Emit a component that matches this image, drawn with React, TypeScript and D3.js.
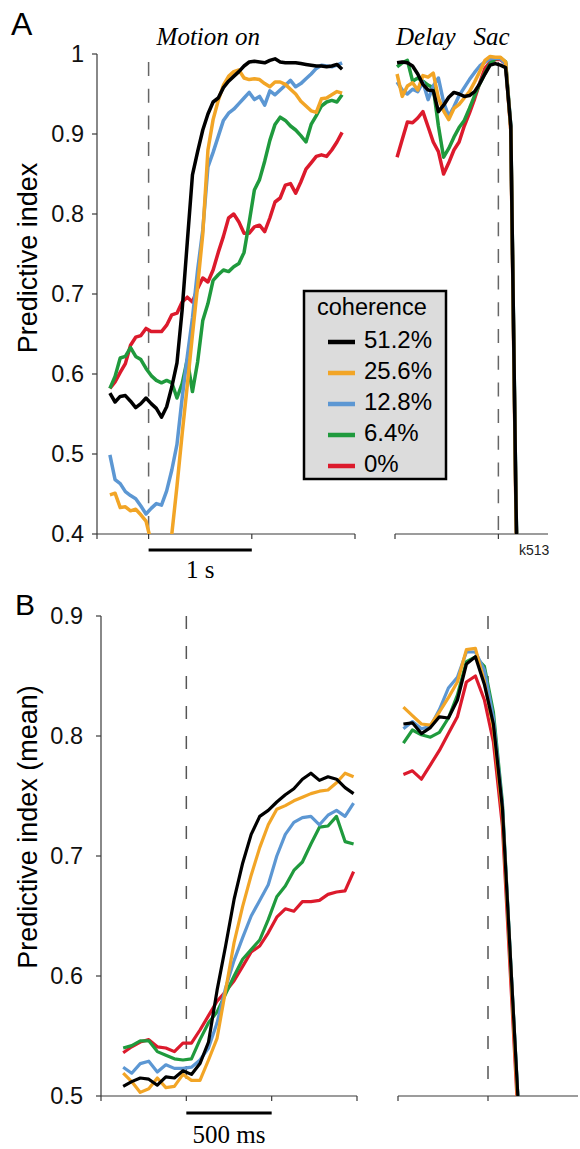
import React from "react";
import * as d3 from "d3";

// ---------- data ----------
const coherenceLabels = ["51.2%", "25.6%", "12.8%", "6.4%", "0%"];
const seriesColors = ["#000000", "#f2a526", "#5c97d3", "#1f9a3d", "#dc1a2c"];

// Panel A, aligned to motion onset (ms)
const timesAMotion = [
  -375, -325, -275, -225, -175, -125, -75, -25, 25, 75, 125, 175, 225, 275, 325, 375, 425, 475, 525, 575,
  625, 675, 725, 775, 825, 875, 925, 975, 1025, 1075, 1125, 1175, 1225, 1275, 1325, 1375, 1425, 1475, 1525,
  1575, 1625, 1675, 1725, 1775, 1825, 1875,
];
const aMotion512 = [0.576,0.565,0.572,0.573,0.566,0.558,0.563,0.570,0.563,0.557,0.546,0.559,0.584,0.614,0.680,0.765,0.849,0.878,0.905,0.925,0.940,0.945,0.958,0.966,0.972,0.978,0.985,0.990,0.991,0.990,0.989,0.992,0.994,0.990,0.989,0.989,0.989,0.988,0.987,0.986,0.985,0.985,0.984,0.985,0.987,0.981];
const aMotion256 = [0.449,0.451,0.433,0.434,0.429,0.431,0.424,0.416,0.39,0.37,0.35,0.33,0.40,0.46,0.525,0.586,0.649,0.71,0.775,0.88,0.918,0.942,0.961,0.972,0.978,0.98,0.97,0.968,0.969,0.968,0.963,0.959,0.965,0.965,0.962,0.956,0.95,0.941,0.935,0.929,0.927,0.944,0.945,0.949,0.953,0.951];
const aMotion128 = [0.499,0.468,0.463,0.453,0.448,0.444,0.435,0.425,0.432,0.438,0.436,0.454,0.48,0.512,0.57,0.622,0.67,0.73,0.78,0.859,0.877,0.897,0.917,0.926,0.931,0.938,0.945,0.952,0.943,0.947,0.936,0.954,0.949,0.955,0.961,0.967,0.959,0.963,0.969,0.975,0.982,0.986,0.985,0.984,0.986,0.989];
const aMotion64 = [0.582,0.597,0.62,0.622,0.633,0.622,0.618,0.607,0.598,0.592,0.589,0.592,0.589,0.57,0.588,0.618,0.578,0.615,0.667,0.688,0.717,0.724,0.73,0.728,0.734,0.738,0.752,0.79,0.83,0.843,0.866,0.892,0.912,0.921,0.917,0.91,0.905,0.898,0.89,0.912,0.923,0.935,0.94,0.942,0.94,0.949];
const aMotion0 = [0.582,0.59,0.602,0.613,0.636,0.646,0.648,0.657,0.653,0.653,0.653,0.661,0.674,0.676,0.69,0.696,0.69,0.707,0.72,0.715,0.73,0.752,0.772,0.795,0.8,0.79,0.776,0.776,0.784,0.786,0.778,0.795,0.815,0.82,0.836,0.838,0.826,0.84,0.856,0.864,0.872,0.874,0.872,0.88,0.89,0.902];

// Panel A, aligned to saccade (ms)
const timesASac = [-980,-930,-880,-830,-780,-730,-680,-630,-580,-530,-480,-430,-380,-330,-280,-230,-180,-130,-80,-30,20,70,120,170,220];
const aSac512 = [0.989,0.99,0.989,0.985,0.975,0.962,0.955,0.954,0.928,0.936,0.946,0.952,0.95,0.947,0.948,0.953,0.963,0.975,0.986,0.988,0.986,0.983,0.91,0.44,0.1];
const aSac256 = [0.975,0.947,0.96,0.964,0.955,0.973,0.971,0.976,0.945,0.929,0.918,0.932,0.937,0.945,0.953,0.965,0.978,0.992,0.997,0.996,0.996,0.99,0.905,0.43,0.1];
const aSac128 = [0.965,0.955,0.95,0.956,0.953,0.965,0.943,0.96,0.97,0.94,0.922,0.934,0.948,0.958,0.968,0.977,0.985,0.99,0.994,0.995,0.994,0.988,0.91,0.44,0.1];
const aSac64 = [0.984,0.989,0.992,0.966,0.97,0.966,0.961,0.958,0.91,0.871,0.882,0.896,0.908,0.917,0.932,0.948,0.963,0.976,0.988,0.994,0.995,0.99,0.91,0.44,0.1];
const aSac0 = [0.871,0.893,0.915,0.914,0.92,0.928,0.909,0.89,0.878,0.85,0.864,0.88,0.89,0.91,0.926,0.944,0.964,0.982,0.99,0.993,0.993,0.988,0.905,0.43,0.1];

// Panel B, aligned to motion onset (ms)
const timesBMotion = [-370,-320,-270,-220,-170,-120,-70,-20,30,80,130,180,230,280,330,380,430,480,530,580,630,680,730,780,830,880,930,980];
const bMotion512 = [0.508,0.512,0.515,0.514,0.509,0.516,0.515,0.521,0.518,0.527,0.545,0.588,0.625,0.664,0.694,0.718,0.733,0.738,0.745,0.751,0.756,0.764,0.769,0.763,0.766,0.764,0.757,0.752];
const bMotion256 = [0.519,0.512,0.503,0.506,0.515,0.507,0.508,0.518,0.513,0.513,0.53,0.548,0.588,0.628,0.658,0.684,0.707,0.726,0.739,0.742,0.746,0.749,0.752,0.754,0.755,0.761,0.769,0.766];
const bMotion128 = [0.524,0.519,0.527,0.529,0.52,0.526,0.523,0.523,0.524,0.53,0.54,0.561,0.59,0.613,0.632,0.65,0.663,0.676,0.70,0.718,0.728,0.732,0.733,0.726,0.734,0.738,0.733,0.744];
const bMotion64 = [0.54,0.542,0.546,0.546,0.537,0.534,0.531,0.53,0.531,0.547,0.561,0.57,0.585,0.6,0.614,0.622,0.63,0.647,0.666,0.675,0.688,0.695,0.71,0.724,0.725,0.733,0.712,0.71];
const bMotion0 = [0.536,0.541,0.545,0.547,0.541,0.54,0.537,0.544,0.544,0.555,0.567,0.579,0.587,0.596,0.608,0.62,0.625,0.636,0.649,0.656,0.654,0.662,0.662,0.663,0.668,0.67,0.671,0.687];

// Panel B, aligned to saccade (ms)
const timesBSac = [-470,-420,-370,-320,-270,-220,-170,-120,-70,-20,30,80,130,180];
const bSac512 = [0.81,0.811,0.802,0.807,0.816,0.815,0.83,0.86,0.866,0.843,0.81,0.74,0.6,0.46];
const bSac256 = [0.824,0.817,0.81,0.809,0.82,0.832,0.845,0.872,0.873,0.845,0.806,0.735,0.595,0.45];
const bSac128 = [0.806,0.812,0.806,0.808,0.822,0.84,0.849,0.87,0.87,0.855,0.815,0.742,0.6,0.46];
const bSac64 = [0.794,0.805,0.801,0.799,0.803,0.815,0.834,0.862,0.866,0.858,0.82,0.745,0.6,0.46];
const bSac0 = [0.768,0.771,0.764,0.776,0.788,0.802,0.816,0.845,0.85,0.83,0.795,0.725,0.585,0.445];

const yTicksA = [0.4, 0.5, 0.6, 0.7, 0.8, 0.9, 1];
const yTickLabelsA = ["0.4", "0.5", "0.6", "0.7", "0.8", "0.9", "1"];
const yTicksB = [0.5, 0.6, 0.7, 0.8, 0.9];
const yTickLabelsB = ["0.5", "0.6", "0.7", "0.8", "0.9"];
const xTicksAMotion = [-500, 0, 1000, 2000];
const xTicksASac = [-1000, 0];
const xTicksBMotion = [-500, 0, 500, 1000];
const xTicksBSac = [-500, 0];

const SANS = "'Liberation Sans', Arial, Helvetica, sans-serif";
const SERIF = "'Liberation Serif', 'Times New Roman', serif";
const AXIS = "#3a3a3a";

type Scale = d3.ScaleLinear<number, number>;

function Lines({ times, series, x, y, width, clip }: { times: number[]; series: number[][]; x: Scale; y: Scale; width: number; clip: string }) {
  const gen = d3
    .line<number>()
    .x((_, i) => x(times[i]))
    .y((d) => y(d));
  const order = [4, 3, 2, 1, 0];
  return (
    <g clipPath={`url(#${clip})`}>
      {order.map((k) => (
        <path key={k} d={gen(series[k]) || ""} fill="none" stroke={seriesColors[k]} strokeWidth={width} strokeLinejoin="round" strokeLinecap="butt" />
      ))}
    </g>
  );
}

function XAxis({ x, y0, ticks, from, to }: { x: Scale; y0: number; ticks: number[]; from: number; to: number }) {
  return (
    <g>
      <line x1={x(from)} x2={x(to)} y1={y0} y2={y0} stroke={AXIS} strokeWidth={1.2} />
      {ticks.map((t) => (
        <line key={t} x1={x(t)} x2={x(t)} y1={y0} y2={y0 + 5} stroke={AXIS} strokeWidth={1.2} />
      ))}
    </g>
  );
}

function YAxis({ y, x0, ticks, labels, labelX }: { y: Scale; x0: number; ticks: number[]; labels: string[]; labelX: number }) {
  const [d0, d1] = y.domain();
  return (
    <g>
      <line x1={x0} x2={x0} y1={y(d0)} y2={y(d1)} stroke={AXIS} strokeWidth={1.2} />
      {ticks.map((t, i) => (
        <g key={t}>
          <line x1={x0 - 5} x2={x0} y1={y(t)} y2={y(t)} stroke={AXIS} strokeWidth={1.2} />
          <text x={labelX} y={y(t)} dy="0.36em" textAnchor="end" fontFamily={SANS} fontSize={23.5} fill="#111">
            {labels[i]}
          </text>
        </g>
      ))}
    </g>
  );
}

export default function App() {
  // Panel A scales
  const yA = d3.scaleLinear().domain([0.4, 1]).range([534, 54]);
  const xAM = d3.scaleLinear().domain([-500, 2000]).range([97, 355]);
  const xAS = d3.scaleLinear().domain([-1000, 480]).range([395, 548]);
  // Panel B scales
  const yB = d3.scaleLinear().domain([0.5, 0.9]).range([1096, 616]);
  const xBM = d3.scaleLinear().domain([-500, 1000]).range([101, 357]);
  const xBS = d3.scaleLinear().domain([-500, 500]).range([398, 578]);

  const aMotion = [aMotion512, aMotion256, aMotion128, aMotion64, aMotion0];
  const aSac = [aSac512, aSac256, aSac128, aSac64, aSac0];
  const bMotion = [bMotion512, bMotion256, bMotion128, bMotion64, bMotion0];
  const bSac = [bSac512, bSac256, bSac128, bSac64, bSac0];

  const legendX = 304;
  const legendY = 291;

  return (
    <svg width={580} height={1149} style={{ position: "absolute", left: 0, top: 0, display: "block", background: "#fff" }}>
      <defs>
        <clipPath id="clipA">
          <rect x={0} y={0} width={580} height={yA(0.4)} />
        </clipPath>
        <clipPath id="clipB">
          <rect x={0} y={580} width={580} height={yB(0.5) - 580} />
        </clipPath>
      </defs>

      {/* ---------------- Panel A ---------------- */}
      <text x={11} y={35} fontFamily={SANS} fontSize={32} fill="#000">A</text>
      <text transform={`translate(37, ${(yA(0.4) + yA(1)) / 2 - 36}) rotate(-90)`} textAnchor="middle" fontFamily={SANS} fontSize={27} fill="#000">
        Predictive index
      </text>
      <YAxis y={yA} x0={xAM(-500)} ticks={yTicksA} labels={yTickLabelsA} labelX={84} />
      <XAxis x={xAM} y0={yA(0.4)} ticks={xTicksAMotion} from={-500} to={2000} />
      <XAxis x={xAS} y0={yA(0.4)} ticks={xTicksASac} from={-1000} to={480} />

      <line x1={xAM(0)} x2={xAM(0)} y1={yA(0.99)} y2={yA(0.4)} stroke="#666" strokeWidth={1.5} strokeDasharray="14,12.7" />
      <line x1={xAS(0)} x2={xAS(0)} y1={yA(0.99)} y2={yA(0.4)} stroke="#666" strokeWidth={1.5} strokeDasharray="14,12.7" />

      <text x={xAM(0) + 8} y={45} fontFamily={SERIF} fontStyle="italic" fontSize={25} fill="#000">Motion on</text>
      <text x={xAS(-1000) + 1} y={45} fontFamily={SERIF} fontStyle="italic" fontSize={25} fill="#000">Delay</text>
      <text x={xAS(0) - 25} y={45} fontFamily={SERIF} fontStyle="italic" fontSize={25} fill="#000">Sac</text>

      <Lines times={timesAMotion} series={aMotion} x={xAM} y={yA} width={3.5} clip="clipA" />
      <Lines times={timesASac} series={aSac} x={xAS} y={yA} width={3.5} clip="clipA" />

      {/* scale bar 1 s */}
      <line x1={xAM(0)} x2={xAM(1000)} y1={550} y2={550} stroke="#000" strokeWidth={3} />
      <text x={(xAM(0) + xAM(1000)) / 2} y={578} textAnchor="middle" fontFamily={SERIF} fontSize={25} fill="#000">1 s</text>
      <text x={519} y={555} fontFamily={SANS} fontSize={14} fill="#222">k513</text>

      {/* legend */}
      <rect x={legendX} y={legendY} width={142} height={188} fill="#dcdcdc" stroke="#000" strokeWidth={2.5} />
      <text x={legendX + 13} y={legendY + 24} fontFamily={SANS} fontSize={23.5} fill="#000">coherence</text>
      {coherenceLabels.map((lab, i) => (
        <g key={lab}>
          <line x1={legendX + 24} x2={legendX + 51} y1={legendY + 51 + i * 31} y2={legendY + 51 + i * 31} stroke={seriesColors[i]} strokeWidth={4.5} />
          <text x={legendX + 60} y={legendY + 57 + i * 31} fontFamily={SANS} fontSize={24} fill="#000">{lab}</text>
        </g>
      ))}

      {/* ---------------- Panel B ---------------- */}
      <text x={15} y={615} fontFamily={SANS} fontSize={30} fill="#000">B</text>
      <text transform={`translate(37, ${(yB(0.5) + yB(0.9)) / 2 - 29}) rotate(-90)`} textAnchor="middle" fontFamily={SANS} fontSize={27} fill="#000">
        Predictive index (mean)
      </text>
      <YAxis y={yB} x0={xBM(-500)} ticks={yTicksB} labels={yTickLabelsB} labelX={83} />
      <XAxis x={xBM} y0={yB(0.5)} ticks={xTicksBMotion} from={-500} to={1000} />
      <XAxis x={xBS} y0={yB(0.5)} ticks={xTicksBSac} from={-500} to={500} />

      <line x1={xBM(0)} x2={xBM(0)} y1={yB(0.9)} y2={yB(0.5)} stroke="#555" strokeWidth={1.5} strokeDasharray="13,17" />
      <line x1={xBS(0)} x2={xBS(0)} y1={yB(0.9)} y2={yB(0.5)} stroke="#555" strokeWidth={1.5} strokeDasharray="13,17" />

      <Lines times={timesBMotion} series={bMotion} x={xBM} y={yB} width={3.2} clip="clipB" />
      <Lines times={timesBSac} series={bSac} x={xBS} y={yB} width={3.2} clip="clipB" />

      {/* scale bar 500 ms */}
      <line x1={xBM(0)} x2={xBM(500)} y1={1113} y2={1113} stroke="#000" strokeWidth={3} />
      <text x={(xBM(0) + xBM(500)) / 2} y={1143} textAnchor="middle" fontFamily={SERIF} fontSize={25} fill="#000">500 ms</text>
    </svg>
  );
}
